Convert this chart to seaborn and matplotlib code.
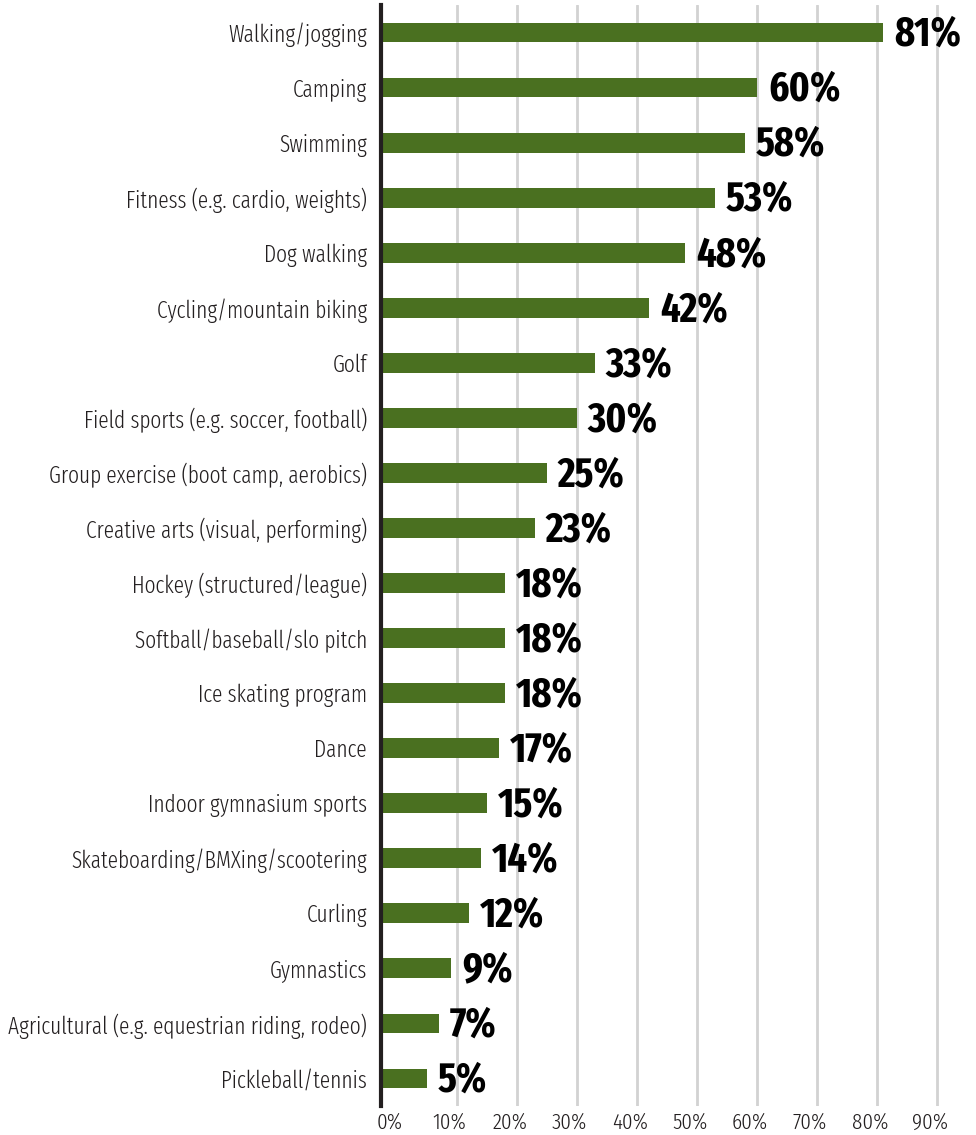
import matplotlib
matplotlib.use("Agg")
import matplotlib.pyplot as plt
from matplotlib.transforms import ScaledTranslation
import seaborn as sns
import pandas as pd

categories = [
    "Walking/jogging", "Camping", "Swimming", "Fitness (e.g. cardio, weights)",
    "Dog walking", "Cycling/mountain biking", "Golf",
    "Field sports (e.g. soccer, football)", "Group exercise (boot camp, aerobics)",
    "Creative arts (visual, performing)", "Hockey (structured/league)",
    "Softball/baseball/slo pitch", "Ice skating program", "Dance",
    "Indoor gymnasium sports", "Skateboarding/BMXing/scootering", "Curling",
    "Gymnastics", "Agricultural (e.g. equestrian riding, rodeo)", "Pickleball/tennis",
]
values = [81, 60, 58, 53, 48, 42, 33, 30, 25, 23, 18, 18, 18, 17, 15, 14, 12, 9, 7, 5]
tick_values = [0, 10, 20, 30, 40, 50, 60, 70, 80, 90]
tick_labels = [f"{v}%" for v in tick_values]

df = pd.DataFrame({"activity": categories, "pct": values})

sns.set_style("white")
FONT = ["Fira Sans Extra Condensed", "Fira Sans Condensed", "DejaVu Sans"]
plt.rcParams["font.family"] = FONT
plt.rcParams["font.weight"] = 300

BAR = "#4a7020"
TEXT = "#231f20"

fig = plt.figure(figsize=(9.76, 11.35), dpi=100)
ax = fig.add_axes([381 / 976, 1 - 1106 / 1135, (967 - 381) / 976, (1106 - 5) / 1135])

sns.barplot(data=df, x="pct", y="activity", orient="h", color=BAR,
            width=0.36, saturation=1, edgecolor="none", ax=ax, zorder=3)

x_left, x_right = -2.6, 95
ax.set_xlim(x_left, x_right)
ax.set_ylim(len(categories) - 0.5, -0.5)

# bars start at the axis line
for bar in ax.patches:
    right = bar.get_x() + bar.get_width()
    bar.set_x(x_left)
    bar.set_width(right - x_left)

ax.set_xticks(tick_values)
ax.set_xticklabels(tick_labels)
ax.grid(axis="x", color="#d2d2d2", linewidth=2, zorder=0)
ax.set_axisbelow(True)
ax.xaxis.get_gridlines()[0].set_visible(False)
ax.grid(axis="y", visible=False)

for s in ["top", "right", "bottom"]:
    ax.spines[s].set_visible(False)
ax.spines["left"].set_color(TEXT)
ax.spines["left"].set_linewidth(3)
ax.spines["left"].set_zorder(5)

ax.tick_params(axis="y", length=0, pad=10, labelsize=16.7, labelcolor=TEXT)
ax.tick_params(axis="x", length=0, pad=4, labelsize=16.5, labelcolor=TEXT)
for lab in ax.get_yticklabels() + ax.get_xticklabels():
    lab.set_fontweight(300)
for lab in ax.get_xticklabels():
    lab.set_transform(lab.get_transform() + ScaledTranslation(-7 / 100, 0, fig.dpi_scale_trans))
ax.set_xlabel("")
ax.set_ylabel("")

for i, v in enumerate(values):
    ax.annotate(f"{v}%", xy=(v, i), xytext=(8, -1.5), textcoords="offset points",
                ha="left", va="center", fontsize=30, fontweight="bold",
                color="#000000", family=FONT)

fig.savefig("out.png", dpi=100)
